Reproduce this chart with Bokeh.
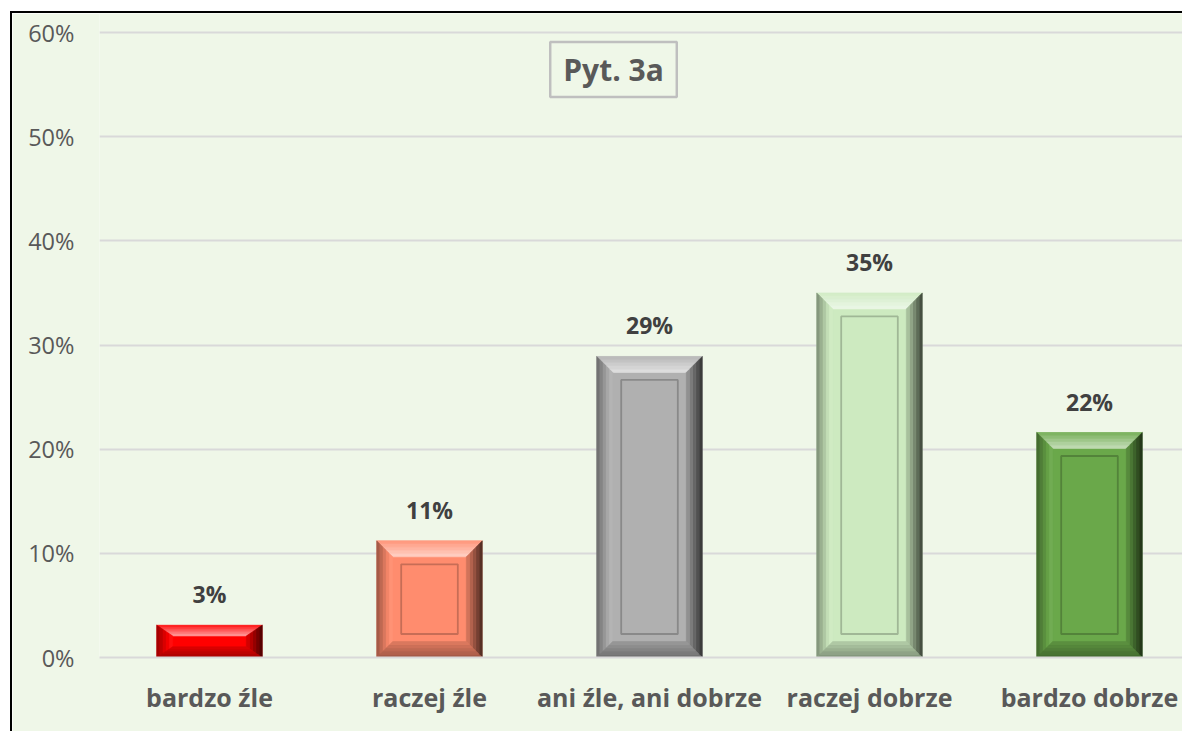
from bokeh.plotting import figure
from bokeh.models import Range1d, FixedTicker, PrintfTickFormatter, Label, Spacer
from bokeh.layouts import column, row
from bokeh.embed import file_html
from bokeh.resources import INLINE
from bokeh.core.properties import value

# ---------------- data ----------------
categories = ["bardzo źle", "raczej źle", "ani źle, ani dobrze", "raczej dobrze", "bardzo dobrze"]
values = [3.1, 11.2, 28.9, 35.0, 21.6]
value_labels = ["3%", "11%", "29%", "35%", "22%"]
colors = ["#FF0000", "#FF8C6E", "#B0B0B0", "#CDEAC0", "#6AA84A"]
y_ticks = [0, 10, 20, 30, 40, 50, 60]
title_text = "Pyt. 3a"

# ---------------- style ----------------
BG = "#EFF7E8"
GRID = "#D9D9D9"
W, H = 1170, 718
FL, FB = 87, 74          # left / bottom borders (px)
CAT_PX = 220.0           # px per category
x_start = -0.5
x_end = x_start + (W - FL) / CAT_PX
frame_h = H - FB
y_px = (frame_h - 19) / 60.0
y_end = frame_h / y_px
BAR_W = 0.48

xs = list(range(len(categories)))

p = figure(width=W, height=H, output_backend="svg", toolbar_location=None,
           x_range=Range1d(x_start, x_end), y_range=Range1d(0, y_end),
           min_border_left=FL, min_border_bottom=FB, min_border_top=0, min_border_right=0)
p.background_fill_color = BG
p.border_fill_color = BG
p.outline_line_color = None

p.xgrid.grid_line_color = None
p.ygrid.grid_line_color = GRID
p.ygrid.grid_line_width = 2
p.ygrid.ticker = FixedTicker(ticks=y_ticks)

# y axis
p.yaxis.ticker = FixedTicker(ticks=y_ticks)
p.yaxis.formatter = PrintfTickFormatter(format="%d%%")
p.yaxis.axis_line_color = None
p.yaxis.major_tick_line_color = None
p.yaxis.minor_tick_line_color = None
p.yaxis.major_label_standoff = 19
p.yaxis.major_label_text_font = "Open Sans"
p.yaxis.major_label_text_font_size = "23.5px"
p.yaxis.major_label_text_color = "#595959"

# x axis
p.xaxis.ticker = FixedTicker(ticks=xs)
p.xaxis.major_label_overrides = {i: c for i, c in zip(xs, categories)}
p.xaxis.axis_line_color = GRID
p.xaxis.axis_line_width = 2
p.xaxis.major_tick_line_color = None
p.xaxis.minor_tick_line_color = None
p.xaxis.major_label_standoff = 16
p.xaxis.major_label_text_font = "Open Sans"
p.xaxis.major_label_text_font_style = "bold"
p.xaxis.major_label_text_font_size = "25px"
p.xaxis.major_label_text_color = "#595959"


def blend(hexc, t):
    r, g, b = int(hexc[1:3], 16), int(hexc[3:5], 16), int(hexc[5:7], 16)
    out = []
    for c in (r, g, b):
        c = c + (255 - c) * t if t >= 0 else c * (1 + t)
        out.append(max(0, min(255, int(round(c)))))
    return "#%02x%02x%02x" % tuple(out)


# base bars
p.vbar(x=xs, top=values, bottom=0, width=BAR_W, fill_color=colors, line_color=None)

# bevel strips
N = 5
BEV = 16.0
sides = {"top": (0.08, 0.62), "left": (-0.40, 0.10), "right": (-0.72, -0.12), "bottom": (-0.38, -0.12)}
pxs, pys, pcol = [], [], []
inner = {"l": [], "r": [], "t": [], "b": [], "c": []}
for xc, v, col in zip(xs, values, colors):
    x0, x1 = xc - BAR_W / 2, xc + BAR_W / 2
    y0, y1 = 0.0, v
    hpx = v * y_px
    bx = BEV / CAT_PX
    by = min(BEV, hpx / 3.0) / y_px
    rects = []
    for k in range(N + 1):
        f = k / N
        rects.append((x0 + f * bx, x1 - f * bx, y0 + f * by, y1 - f * by))
    for k in range(N):
        a, b2 = rects[k], rects[k + 1]
        t = (k + 0.5) / N
        for side, (to, ti) in sides.items():
            c = blend(col, to + (ti - to) * t)
            if side == "top":
                px_ = [a[0], a[1], b2[1], b2[0]]; py_ = [a[3], a[3], b2[3], b2[3]]
            elif side == "bottom":
                px_ = [a[0], a[1], b2[1], b2[0]]; py_ = [a[2], a[2], b2[2], b2[2]]
            elif side == "left":
                px_ = [a[0], b2[0], b2[0], a[0]]; py_ = [a[2], b2[2], b2[3], a[3]]
            else:
                px_ = [a[1], b2[1], b2[1], a[1]]; py_ = [a[2], b2[2], b2[3], a[3]]
            pxs.append(px_); pys.append(py_); pcol.append(c)
    if hpx > 70:
        ix, iy = 24.5 / CAT_PX, 23.5 / y_px
        inner["l"].append(x0 + ix); inner["r"].append(x1 - ix)
        inner["b"].append(y0 + iy); inner["t"].append(y1 - iy)
        inner["c"].append(blend(col, -0.22))

p.patches(xs=pxs, ys=pys, fill_color=pcol, line_color=pcol, line_width=0.6)
p.quad(left=inner["l"], right=inner["r"], bottom=inner["b"], top=inner["t"],
       fill_color=None, line_color=inner["c"], line_width=1.8)

# value labels
p.text(x=xs, y=values, text=value_labels, text_align="center", text_baseline="alphabetic",
       y_offset=-31, text_font=value("Open Sans"), text_font_style="bold",
       text_font_size="23px", text_color="#404040")

# title box
p.add_layout(Label(x=514, y=588, x_units="screen", y_units="screen", text=title_text,
                   text_align="center", text_baseline="middle", text_font="Open Sans",
                   text_font_style="bold", text_font_size="30px", text_color="#595959",
                   border_line_color="#BFBFBF", border_line_width=2.5,
                   background_fill_color=BG, padding=(13, 7)))

black_top = Spacer(width=W + 2, height=2, styles={"background-color": "#000000"})
black_left = Spacer(width=2, height=H, styles={"background-color": "#000000"})
layout = column(Spacer(width=10, height=11),
                row(Spacer(width=10, height=H + 2), column(black_top, row(black_left, p))))

open("out.html", "w").write(file_html(layout, INLINE))
